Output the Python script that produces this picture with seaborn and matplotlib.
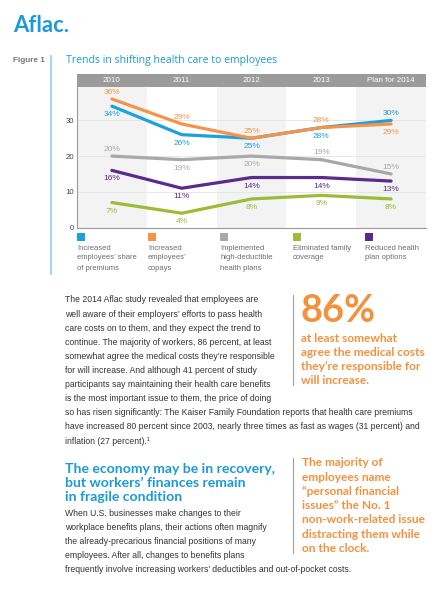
import numpy as np
import pandas as pd
import seaborn as sns
import matplotlib
matplotlib.use("Agg")
import matplotlib.pyplot as plt
from matplotlib.patches import Rectangle
from matplotlib.lines import Line2D
import matplotlib.transforms as mtransforms

# ---------------- data ----------------
years = ["2010", "2011", "2012", "2013", "Plan for 2014"]
series_names = [
    "Increased employees' share of premiums",
    "Increased employees' copays",
    "Implemented high-deductible health plans",
    "Eliminated family coverage",
    "Reduced health plan options",
]
premiums = [34, 26, 25, 28, 30]
copays = [36, 29, 25, 28, 29]
high_deductible = [20, 19, 20, 19, 15]
family_coverage = [7, 4, 8, 9, 8]
plan_options = [16, 11, 14, 14, 13]
legend_labels = [
    ["Increased", "employees\u2019 share", "of premiums"],
    ["Increased", "employees\u2019", "copays"],
    ["Implemented", "high-deductible", "health plans"],
    ["Eliminated family", "coverage"],
    ["Reduced health", "plan options"],
]
yticks = [0, 10, 20, 30]

# ---------------- style ----------------
colors = ["#1ba1dc", "#f4934a", "#a8a8a8", "#9fba37", "#5a2b8c"]
# label placement: +1 above the line, -1 below
label_side = [
    [-1, -1, -1, -1, 1],
    [1, 1, 1, 1, -1],
    [1, -1, -1, 1, 1],
    [-1, -1, -1, -1, -1],
    [-1, -1, -1, -1, -1],
]

sns.set_style("white")
plt.rcParams["font.family"] = ["Liberation Sans", "DejaVu Sans"]
plt.rcParams["lines.solid_joinstyle"] = "round"
plt.rcParams["lines.solid_capstyle"] = "round"

W, H = 444, 600
fig = plt.figure(figsize=(W / 100, H / 100), dpi=100)
fig.patch.set_facecolor("white")


def fx(x):
    return x / W


def fy(y):
    return 1 - y / H


renderer = fig.canvas.get_renderer()


def fit_size(text, target_px, family="Liberation Sans", weight="normal"):
    t = fig.text(0, 0, text, fontsize=10, family=family, weight=weight)
    w = t.get_window_extent(renderer).width
    t.remove()
    return 10 * target_px / w


def put_lines(lines, x, y0, step, size, color, family="Liberation Sans", weight="normal"):
    for k, s in enumerate(lines):
        fig.text(fx(x), fy(y0 + k * step), s, fontsize=size, color=color,
                 family=family, weight=weight, ha="left", va="center")


# ---------------- chart ----------------
ax_left, ax_right, ax_top, ax_bottom = 77, 426, 87, 227.5
ax = fig.add_axes([fx(ax_left), fy(ax_bottom), (ax_right - ax_left) / W, (ax_bottom - ax_top) / H])

rows = []
for name, vals in zip(series_names, [premiums, copays, high_deductible, family_coverage, plan_options]):
    for i, v in enumerate(vals):
        rows.append({"series": name, "pos": i, "year": years[i], "value": v})
df = pd.DataFrame(rows)

for i in range(0, len(years), 2):
    ax.axvspan(i - 0.5, i + 0.5, color="#f3f3f3", zorder=0, lw=0)

sns.lineplot(data=df, x="pos", y="value", hue="series", hue_order=series_names,
             palette=dict(zip(series_names, colors)), linewidth=2.3, legend=False,
             sort=False, ax=ax, zorder=3)

ax.set_xlim(-0.5, len(years) - 0.5)
ax.set_ylim(0, (ax_bottom - ax_top) / 3.57)
ax.set_yticks(yticks)
ax.set_yticklabels([str(t) for t in yticks], fontsize=5.6, color="#444444")
ax.set_xticks([])
ax.set_xlabel("")
ax.set_ylabel("")
ax.tick_params(axis="y", length=0, pad=2)
ax.yaxis.grid(True, color="#e4e4e4", lw=0.6)
ax.set_axisbelow(True)
for s in ["top", "right"]:
    ax.spines[s].set_visible(False)
for s in ["left", "bottom"]:
    ax.spines[s].set_color("#9a9a9a")
    ax.spines[s].set_linewidth(0.8)

# header band with years
band_h = 13 / (ax_bottom - ax_top)
ax.add_patch(Rectangle((0, 1), 1, band_h, transform=ax.transAxes, color="#9b9b9b",
                       clip_on=False, zorder=5, lw=0))
blend = mtransforms.blended_transform_factory(ax.transData, ax.transAxes)
for i, yr in enumerate(years):
    ax.text(i, 1 + band_h / 2, yr, transform=blend, ha="center", va="center",
            fontsize=5.8, color="white", zorder=6)

# data labels
for si, name in enumerate(series_names):
    sub = df[df["series"] == name]
    for i, v in zip(sub["pos"], sub["value"]):
        side = label_side[si][i]
        ax.annotate(f"{v}%", (i, v), xytext=(0, 2.3 if side > 0 else -3.6),
                    textcoords="offset points", ha="center",
                    va="bottom" if side > 0 else "top", fontsize=6.0,
                    color=colors[si], zorder=7)

# legend
leg_x = [77, 148, 220, 293, 365]
for k in range(len(series_names)):
    fig.add_artist(Rectangle((fx(leg_x[k]), fy(241)), 7.5 / W, 7.5 / H,
                             transform=fig.transFigure, color=colors[k], lw=0))
leg_size = fit_size("employees\u2019 share", 60)
for k, lines in enumerate(legend_labels):
    put_lines(lines, leg_x[k], 248, 10, leg_size, "#6e6e6e")

# ---------------- page furniture ----------------
blue = "#1a9ad6"
orange = "#f4913f"
body_col = "#333333"

fig.text(fx(13), fy(25), "Aflac.", fontsize=fit_size("Aflac.", 56, "Lato", "bold"),
         family="Lato", weight="bold", color=blue, ha="left", va="center")
fig.text(fx(13), fy(61), "Figure 1", fontsize=fit_size("Figure 1", 32, "Liberation Sans", "bold"),
         weight="bold", color="#777777", ha="left", va="center")
fig.add_artist(Line2D([fx(50.5), fx(50.5)], [fy(56), fy(274)], color="#a9d5f0", lw=1.6,
                      transform=fig.transFigure))
fig.text(fx(66), fy(61), "Trends in shifting health care to employees",
         fontsize=fit_size("Trends in shifting health care to employees", 211, "Open Sans"),
         family="Open Sans", color=blue, ha="left", va="center")

# body paragraph 1
para1 = [
    "The 2014 Aflac study revealed that employees are",
    "well aware of their employers\u2019 efforts to pass health",
    "care costs on to them, and they expect the trend to",
    "continue. The majority of workers, 86 percent, at least",
    "somewhat agree the medical costs they\u2019re responsible",
    "for will increase. And although 41 percent of study",
    "participants say maintaining their health care benefits",
    "is the most important issue to them, the price of doing",
    "so has risen significantly: The Kaiser Family Foundation reports that health care premiums",
    "have increased 80 percent since 2003, nearly three times as fast as wages (31 percent) and",
    "inflation (27 percent).\u00b9",
]
body_size = fit_size(para1[8], 348)
put_lines(para1, 65, 300, 14.1, body_size, body_col)

# 86% callout
fig.add_artist(Line2D([fx(293), fx(293)], [fy(295), fy(385)], color="#a0a0a0", lw=0.8,
                      transform=fig.transFigure))
fig.text(fx(300), fy(311), "86%", fontsize=fit_size("86%", 75, "Lato", "bold"),
         family="Lato", weight="bold", color=orange, ha="left", va="center")
callout1 = ["at least somewhat", "agree the medical costs", "they\u2019re responsible for", "will increase."]
co_size = fit_size("agree the medical costs", 124, "Lato", "bold")
put_lines(callout1, 301, 338, 14, co_size, orange, "Lato", "bold")

# heading
heading = ["The economy may be in recovery,", "but workers\u2019 finances remain", "in fragile condition"]
hd_size = fit_size(heading[0], 210, "Lato", "bold")
put_lines(heading, 65, 469, 14, hd_size, blue, "Lato", "bold")

para2 = [
    "When U.S. businesses make changes to their",
    "workplace benefits plans, their actions often magnify",
    "the already-precarious financial positions of many",
    "employees. After all, changes to benefits plans",
    "frequently involve increasing workers\u2019 deductibles and out-of-pocket costs.",
]
put_lines(para2, 65, 513, 14.2, body_size, body_col)

fig.add_artist(Line2D([fx(293), fx(293)], [fy(458), fy(553)], color="#a0a0a0", lw=0.8,
                      transform=fig.transFigure))
callout2 = ["The majority of", "employees name", "\u201cpersonal financial",
            "issues\u201d the No. 1", "non-work-related issue", "distracting them while", "on the clock."]
put_lines(callout2, 302, 463, 14.2, co_size, orange, "Lato", "bold")

fig.savefig("out.png", dpi=100, facecolor="white")
